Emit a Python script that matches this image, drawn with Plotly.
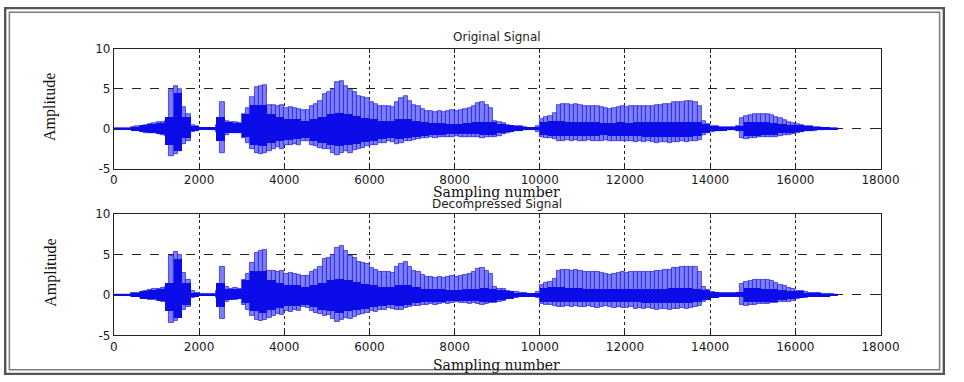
import plotly.graph_objects as go

# ---------------- data ----------------
# outer envelope of the waveform, one value per 100-sample bin (bins start at 0, 100, ..., 16900)
env_x = list(range(0, 17000, 100))
orig_upper = [0.05, 0.05, 0.05, 0.05, 0.2, 0.3, 0.4, 0.5, 0.6, 0.7,
              0.8, 0.9, 1.0, 4.8, 5.3, 5.0, 2.7, 1.9, 0.5, 0.3,
              0.1, 0.1, 0.1, 0.15, 0.5, 3.4, 1.0, 0.8, 0.9, 0.7,
              1.8, 2.6, 4.0, 5.2, 5.4, 5.5, 3.0, 3.0, 2.8, 3.0,
              2.6, 2.7, 2.6, 2.5, 2.3, 2.4, 2.8, 3.1, 3.5, 4.4,
              4.6, 5.0, 5.8, 6.0, 5.4, 4.8, 4.6, 4.1, 4.0, 3.8,
              3.3, 3.1, 2.9, 2.8, 2.8, 2.7, 3.4, 3.8, 4.1, 3.5,
              3.0, 2.9, 2.5, 2.2, 2.2, 2.1, 2.2, 2.1, 2.2, 2.3,
              2.2, 2.3, 2.5, 2.6, 2.9, 3.2, 3.3, 3.0, 2.6, 1.0,
              0.8, 0.7, 0.5, 0.4, 0.35, 0.3, 0.2, 0.15, 0.1, 0.4,
              1.2, 1.5, 1.6, 2.0, 3.0, 3.1, 3.1, 3.0, 3.1, 3.0,
              2.9, 2.9, 2.8, 2.8, 2.7, 2.6, 2.5, 2.6, 2.7, 2.8,
              2.7, 2.8, 2.8, 2.9, 2.9, 2.8, 2.9, 3.0, 3.0, 3.1,
              3.1, 3.3, 3.3, 3.4, 3.5, 3.5, 3.4, 2.8, 1.0, 0.6,
              0.4, 0.3, 0.25, 0.2, 0.2, 0.25, 0.3, 1.4, 1.6, 1.7,
              1.8, 1.9, 1.9, 1.8, 1.7, 1.5, 1.3, 1.1, 0.9, 0.7,
              0.55, 0.45, 0.35, 0.3, 0.25, 0.2, 0.15, 0.1, 0.08, 0.05]
orig_lower = [-0.05, -0.05, -0.05, -0.05, -0.2, -0.3, -0.4, -0.5, -0.6, -0.6,
              -0.7, -0.8, -0.9, -3.4, -3.2, -2.8, -1.9, -1.5, -0.4, -0.3,
              -0.1, -0.1, -0.1, -0.15, -0.4, -3.0, -0.8, -0.5, -0.6, -0.5,
              -1.2, -1.8, -2.6, -3.1, -3.2, -3.1, -2.8, -2.6, -2.3, -2.5,
              -2.0, -2.1, -1.9, -2.0, -1.5, -1.6, -2.0, -2.2, -2.4, -2.6,
              -2.5, -3.0, -3.3, -3.1, -2.8, -3.0, -2.7, -2.5, -2.4, -2.2,
              -2.0, -2.1, -1.8, -1.8, -1.6, -1.7, -1.9, -1.8, -1.6, -1.5,
              -1.4, -1.3, -1.2, -1.2, -1.1, -1.2, -1.1, -1.0, -1.1, -1.0,
              -0.9, -1.0, -1.0, -1.1, -1.0, -1.1, -1.2, -1.1, -1.0, -1.0,
              -0.9, -0.7, -0.5, -0.4, -0.35, -0.3, -0.2, -0.15, -0.1, -0.4,
              -1.1, -1.2, -1.2, -1.3, -1.5, -1.5, -1.4, -1.5, -1.4, -1.5,
              -1.5, -1.4, -1.5, -1.6, -1.5, -1.4, -1.5, -1.6, -1.5, -1.6,
              -1.6, -1.5, -1.7, -1.6, -1.7, -1.6, -1.7, -1.8, -1.7, -1.7,
              -1.8, -1.7, -1.7, -1.6, -1.7, -1.6, -1.5, -1.4, -0.8, -0.6,
              -0.4, -0.3, -0.25, -0.2, -0.2, -0.2, -0.3, -1.2, -1.3, -1.2,
              -1.2, -1.1, -1.1, -1.1, -1.0, -1.0, -0.9, -0.8, -0.8, -0.7,
              -0.5, -0.4, -0.35, -0.3, -0.25, -0.2, -0.15, -0.1, -0.08, -0.05]

# dense (dark) core of the waveform, one value per 200-sample bin
core_x = list(range(0, 17000, 200))
orig_core_hi = [0.05, 0.05, 0.25, 0.45, 0.6, 0.75, 1.5, 4.5, 1.5, 0.3,
                0.1, 0.1, 1.5, 0.8, 0.7, 1.8, 3.0, 3.0, 1.8, 1.5,
                1.2, 1.2, 1.0, 1.2, 1.5, 1.8, 2.0, 1.8, 1.6, 1.4,
                1.2, 1.0, 1.0, 1.2, 1.2, 1.0, 0.8, 0.7, 0.7, 0.6,
                0.6, 0.7, 0.8, 0.9, 0.8, 0.6, 0.45, 0.3, 0.2, 0.2,
                0.9, 1.0, 1.0, 0.9, 0.9, 0.8, 0.8, 0.7, 0.7, 0.8,
                0.7, 0.8, 0.8, 0.8, 0.8, 0.9, 0.9, 0.9, 0.8, 0.6,
                0.35, 0.25, 0.2, 0.4, 0.9, 0.9, 0.8, 0.7, 0.6, 0.5,
                0.45, 0.3, 0.2, 0.12, 0.06]
orig_core_lo = [-0.05, -0.05, -0.25, -0.45, -0.55, -0.7, -2.0, -2.8, -1.2, -0.3,
                -0.1, -0.1, -1.5, -0.6, -0.5, -1.0, -2.0, -2.2, -1.8, -1.6,
                -1.4, -1.3, -1.2, -1.5, -1.8, -2.0, -2.2, -2.0, -1.9, -1.7,
                -1.5, -1.3, -1.2, -1.3, -1.2, -1.0, -0.9, -0.8, -0.8, -0.7,
                -0.7, -0.7, -0.7, -0.8, -0.8, -0.6, -0.45, -0.3, -0.2, -0.2,
                -0.8, -0.9, -0.9, -0.9, -0.9, -0.9, -0.9, -0.8, -0.9, -0.9,
                -0.9, -0.9, -1.0, -1.0, -1.0, -1.0, -1.0, -1.0, -0.9, -0.6,
                -0.35, -0.25, -0.2, -0.3, -0.9, -0.9, -0.8, -0.8, -0.6, -0.5,
                -0.4, -0.3, -0.2, -0.12, -0.06]

# decompressed signal is visually identical to the original
dec_upper = list(orig_upper)
dec_lower = list(orig_lower)
dec_core_hi = list(orig_core_hi)
dec_core_lo = list(orig_core_lo)

x_ticks = [0, 2000, 4000, 6000, 8000, 10000, 12000, 14000, 16000, 18000]
x_tick_labels = ["0", "2000", "4000", "6000", "8000", "10000", "12000", "14000", "16000", "18000"]
y_ticks = [-5, 0, 5, 10]
y_tick_labels = ["-5", "0", "5", "10"]
panel_titles = ["Original Signal", "Decompressed Signal"]
x_title = "Sampling number"
y_title = "Amplitude"

# ---------------- styling ----------------
W, H = 964, 382
LIGHT = "rgb(126,126,248)"
EDGE = "rgba(20,20,225,0.85)"
DARK = "rgb(12,12,232)"

# the photographed page shows the paper slightly shifted and scaled; place by target picture pixels
SX, OX = 0.974, 3.4
SY, OY = 0.959, 7.1

def px_x(t):
    return ((t - OX) / SX) / W

def px_y(t):
    return 1 - ((t - OY) / SY) / H

fig = go.Figure()

def add_signal(upper, lower, core_hi, core_lo, xa, ya):
    for vals in (upper, lower):
        fig.add_trace(go.Bar(x=env_x, y=vals, width=100, offset=0,
                             marker=dict(color=LIGHT, line=dict(color=EDGE, width=0.8)),
                             xaxis=xa, yaxis=ya, showlegend=False, hoverinfo="skip"))
    for vals in (core_hi, core_lo):
        fig.add_trace(go.Bar(x=core_x, y=vals, width=200, offset=0,
                             marker=dict(color=DARK, line=dict(width=0)),
                             xaxis=xa, yaxis=ya, showlegend=False, hoverinfo="skip"))

add_signal(orig_upper, orig_lower, orig_core_hi, orig_core_lo, "x", "y")
add_signal(dec_upper, dec_lower, dec_core_hi, dec_core_lo, "x2", "y2")

tick_font = dict(family="DejaVu Sans", size=12, color="#1a1a1a")

def xaxis_cfg(anchor):
    return dict(domain=[px_x(113), px_x(878)], range=[0, 18000],
                tickvals=x_ticks, ticktext=x_tick_labels,
                showgrid=True, gridcolor="#222", gridwidth=1, griddash="dot",
                showline=True, linecolor="#222", linewidth=1, mirror="ticks",
                ticks="inside", ticklen=4, tickcolor="#222", zeroline=False,
                tickfont=tick_font, anchor=anchor, fixedrange=True)

def yaxis_cfg(anchor, top, bottom):
    return dict(domain=[px_y(bottom), px_y(top)], range=[-5, 10],
                tickvals=y_ticks, ticktext=y_tick_labels,
                showgrid=True, gridcolor="#222", gridwidth=1, griddash="dash",
                showline=True, linecolor="#222", linewidth=1, mirror="ticks",
                ticks="inside", ticklen=4, tickcolor="#222", zeroline=False,
                tickfont=tick_font, anchor=anchor, fixedrange=True)

annotations = []
for title, ty, lab_y, amp_y in ((panel_titles[0], 37, 191, 107), (panel_titles[1], 203, 363, 272)):
    annotations.append(dict(text=title, x=px_x(495), y=px_y(ty), xref="paper", yref="paper",
                            xanchor="center", yanchor="middle", showarrow=False,
                            font=dict(family="DejaVu Sans", size=12, color="#222")))
    annotations.append(dict(text=x_title, x=px_x(495), y=px_y(lab_y), xref="paper", yref="paper",
                            xanchor="center", yanchor="middle", showarrow=False,
                            font=dict(family="DejaVu Serif", size=14, color="#111")))
    annotations.append(dict(text=y_title, x=px_x(50), y=px_y(amp_y), xref="paper", yref="paper",
                            xanchor="center", yanchor="middle", showarrow=False, textangle=-90,
                            font=dict(family="Liberation Serif", size=16, color="#111")))

shapes = [
    dict(type="rect", xref="paper", yref="paper", x0=1.2 / W, x1=1 - 1.2 / W, y0=1.2 / H, y1=1 - 1.2 / H,
         line=dict(color="#555", width=2.4)),
    dict(type="rect", xref="paper", yref="paper", x0=5.5 / W, x1=1 - 5.5 / W, y0=5.5 / H, y1=1 - 5.5 / H,
         line=dict(color="#7a7a7a", width=1.5)),
]

fig.update_layout(
    width=W, height=H,
    margin=dict(l=0, r=0, t=0, b=0),
    paper_bgcolor="white", plot_bgcolor="white",
    barmode="overlay", bargap=0,
    xaxis=xaxis_cfg("y"),
    yaxis=yaxis_cfg("x", 49, 168),
    xaxis2=xaxis_cfg("y2"),
    yaxis2=yaxis_cfg("x2", 213, 334),
    annotations=annotations,
    shapes=shapes,
    showlegend=False,
)

fig.write_html(
    "out.html",
    config={"displayModeBar": False},
    post_script="document.body.style.margin='0';document.body.style.padding='0';"
                "document.documentElement.style.overflow='hidden';",
)
